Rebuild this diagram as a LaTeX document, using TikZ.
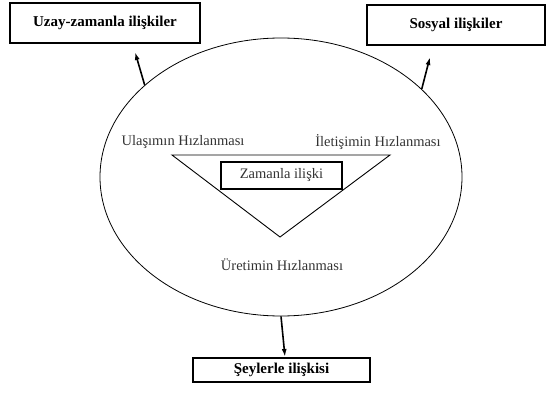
\documentclass[tikz,border=0pt]{standalone}
\usepackage{fontspec}
\setmainfont{Liberation Serif}
\usetikzlibrary{shapes.geometric,arrows.meta}
\begin{document}
\begin{tikzpicture}[x=1pt,y=-1pt,
  outbox/.style={draw,line width=1.8pt,font=\fontsize{15}{17}\selectfont\bfseries,inner sep=0pt},
  lbl/.style={font=\fontsize{14.5}{17}\selectfont,text=black!80,inner sep=0pt},
  arr/.style={line width=1.6pt,-{Latex[length=8pt,width=5pt]}}]
\useasboundingbox (0,0) rectangle (548,396);
% outer boxes
\node[outbox,minimum width=190pt,minimum height=40pt] (b1) at (105,23) {Uzay-zamanla ilişkiler};
\node[outbox,minimum width=178pt,minimum height=40pt] (b2) at (456,25) {Sosyal ilişkiler};
\node[outbox,minimum width=177pt,minimum height=24pt] (b3) at (281.5,370) {Şeylerle ilişkisi};
% ellipse
\node[draw,ellipse,line width=0.8pt,minimum width=362pt,minimum height=278pt,inner sep=0pt] (ell) at (281,177) {};
% arrow end points
\coordinate (h1) at (135,52);
\coordinate (h2) at (430,57);
\coordinate (h3) at (285,357);
\draw[arr] (ell.146) -- (h1);
\draw[arr] (ell.32) -- (h2);
\draw[arr] (ell.-90) -- (h3);
% triangle
\coordinate (t1) at (172,155);
\coordinate (t2) at (390,155);
\coordinate (t3) at (280,237);
\draw[line width=0.9pt] (t1) -- (t2) -- (t3) -- cycle;
\node[draw,fill=white,line width=1.6pt,minimum width=121pt,minimum height=27pt,inner sep=0pt,font=\fontsize{14.5}{17}\selectfont,text=black!80] (z) at (281.5,175.5) {Zamanla ilişki};
% labels
\node[lbl] (u) at (183,142) {Ulaşımın Hızlanması};
\node[lbl] (i) at (378,142) {İletişimin Hızlanması};
\node[lbl] (r) at (282,265) {Üretimin Hızlanması};
\end{tikzpicture}
\end{document}
